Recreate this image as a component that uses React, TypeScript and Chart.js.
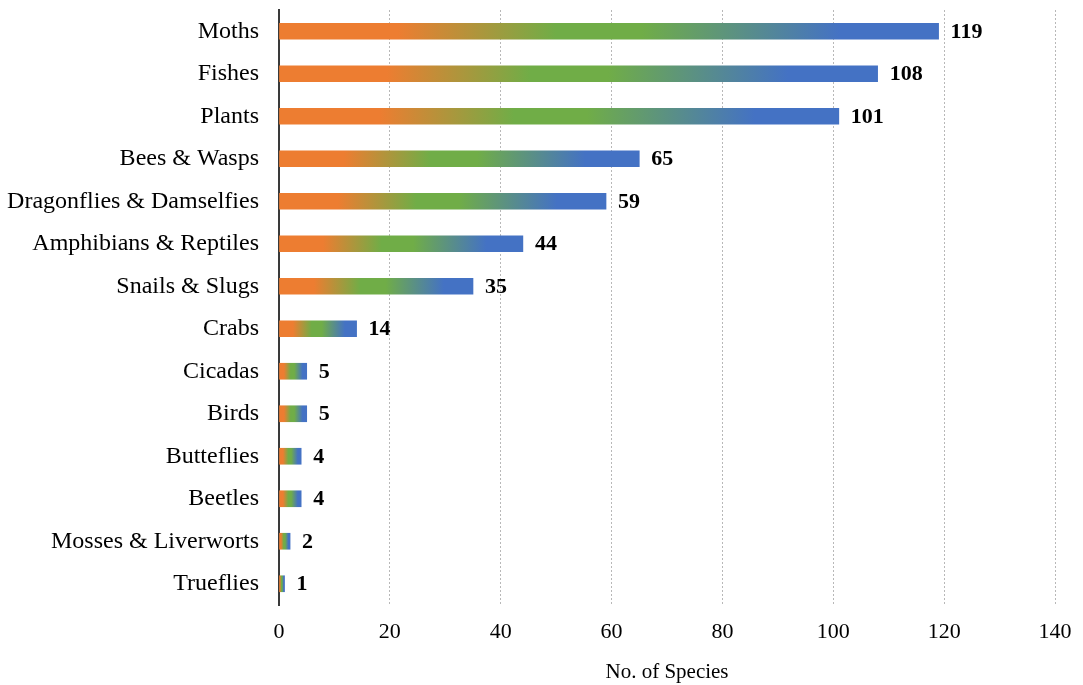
import React, { useEffect, useRef } from "react";
import { Chart, registerables } from "chart.js";

Chart.register(...registerables);

const categories = [
  "Moths",
  "Fishes",
  "Plants",
  "Bees & Wasps",
  "Dragonflies & Damselfies",
  "Amphibians & Reptiles",
  "Snails & Slugs",
  "Crabs",
  "Cicadas",
  "Birds",
  "Butteflies",
  "Beetles",
  "Mosses & Liverworts",
  "Trueflies",
];
const speciesCounts = [119, 108, 101, 65, 59, 44, 35, 14, 5, 5, 4, 4, 2, 1];
const xTicks = [0, 20, 40, 60, 80, 100, 120, 140];
const axisTitle = "No. of Species";

const FONT = '"Liberation Serif", "Times New Roman", serif';

export default function App() {
  const canvasRef = useRef<HTMLCanvasElement | null>(null);

  useEffect(() => {
    document.body.style.margin = "0";
    const canvas = canvasRef.current;
    if (!canvas) return;

    const labelPlugin = {
      id: "valueLabels",
      afterDatasetsDraw(chart: any) {
        const ctx = chart.ctx;
        const meta = chart.getDatasetMeta(0);
        ctx.save();
        ctx.font = `bold 22px ${FONT}`;
        ctx.fillStyle = "#000";
        ctx.textAlign = "left";
        ctx.textBaseline = "middle";
        meta.data.forEach((bar: any, i: number) => {
          ctx.fillText(String(speciesCounts[i]), bar.x + 12, bar.y + 1);
        });
        ctx.restore();
      },
    };

    const chart = new Chart(canvas, {
      type: "bar",
      data: {
        labels: categories,
        datasets: [
          {
            data: speciesCounts,
            barThickness: 16,
            borderWidth: 0,
            backgroundColor: (context: any) => {
              const ch = context.chart;
              const xs = ch.scales.x;
              if (!xs || context.raw === undefined) return "#4472C4";
              const x0 = xs.getPixelForValue(0);
              const x1 = xs.getPixelForValue(context.raw);
              if (!isFinite(x0) || !isFinite(x1) || x1 - x0 < 0.5) return "#ED7D31";
              const g = ch.ctx.createLinearGradient(x0, 0, x1, 0);
              g.addColorStop(0, "#ED7D31");
              g.addColorStop(0.18, "#ED7D31");
              g.addColorStop(0.42, "#70AD47");
              g.addColorStop(0.55, "#70AD47");
              g.addColorStop(0.85, "#4472C4");
              g.addColorStop(1, "#4472C4");
              return g;
            },
          },
        ],
      },
      options: {
        indexAxis: "y",
        animation: false,
        responsive: false,
        maintainAspectRatio: false,
        layout: { padding: { top: 10, right: 28, left: 0, bottom: 0 } },
        plugins: {
          legend: { display: false },
          tooltip: { enabled: false },
        },
        scales: {
          x: {
            min: 0,
            max: 140,
            afterBuildTicks: (axis: any) => {
              axis.ticks = xTicks.map((v) => ({ value: v }));
            },
            grid: {
              color: (c: any) => (c.tick && c.tick.value === 0 ? "rgba(0,0,0,0)" : "#b8b8b8"),
              lineWidth: 1,
              drawTicks: false,
            },
            border: { display: false, dash: [2, 2] },
            ticks: {
              padding: 14,
              color: "#000",
              font: { family: FONT, size: 22 },
            },
            title: {
              display: true,
              text: axisTitle,
              color: "#000",
              font: { family: FONT, size: 21 },
              padding: { top: 10, bottom: 0 },
            },
            afterFit: (s: any) => {
              s.height = 80;
              s.paddingRight = 0;
            },
          },
          y: {
            grid: { display: false, drawTicks: false },
            border: { display: true, color: "#3a3a3a", width: 2 },
            ticks: {
              padding: 20,
              color: "#000",
              font: { family: FONT, size: 24 },
            },
            afterFit: (s: any) => {
              s.width = 279;
              s.paddingTop = 0;
              s.paddingBottom = 0;
            },
          },
        },
      } as any,
      plugins: [labelPlugin],
    });

    return () => chart.destroy();
  }, []);

  return (
    <div style={{ width: 1083, height: 685 }}>
      <canvas ref={canvasRef} width={1083} height={685} style={{ display: "block" }} />
    </div>
  );
}
